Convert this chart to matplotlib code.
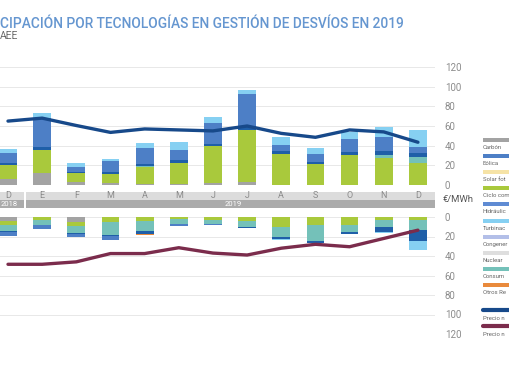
import numpy as np
import matplotlib
matplotlib.use('Agg')
import matplotlib.pyplot as plt
from matplotlib.patches import Rectangle
from matplotlib.lines import Line2D

plt.rcParams['font.family'] = ['Roboto', 'DejaVu Sans']

# datos (dic 2018 - dic 2019)
meses = ['D', 'E', 'F', 'M', 'A', 'M', 'J', 'J', 'A', 'S', 'O', 'N', 'D']

# a subir (MWh medio, escala €/MWh)
sub_carbon = [6, 12.5, 3.5, 2.5, 1, 1, 2.5, 3.5, 0.5, 0.5, 0.5, 0.5, 0.5]
sub_ciclo = [14, 23, 8.5, 9, 17, 21.5, 37, 52.5, 31.5, 20.5, 29.5, 26.5, 22]
sub_consumo = [0, 0, 0, 0, 1.5, 0, 0, 0, 0, 0, 1, 4, 5.5]
sub_hidra = [2, 3, 1.5, 2, 2, 2.5, 2.5, 4.5, 2.5, 2.5, 2.5, 3.5, 5]
sub_eolica = [10.5, 29.5, 5, 11, 16.5, 11, 21.5, 32, 6.5, 8, 13, 14.5, 5.5]
sub_turb = [4, 5.5, 4, 2, 5, 8, 6, 4, 7.5, 6.5, 7.5, 9.5, 17.5]

# a bajar
baj_carbon = [4.5, 0.5, 5, 0, 0, 0, 0, 0, 0, 0, 0, 0, 0]
baj_ciclo = [3.5, 2.5, 4, 5.5, 4.5, 2.5, 3.5, 4.5, 10, 8, 8, 3.5, 3.5]
baj_consumo = [6.5, 5, 7.5, 13, 10, 4.5, 3.5, 5.5, 11, 16.5, 7.5, 6.5, 10]
baj_hidra = [1, 0, 1, 1, 2.5, 0, 0, 1.5, 1.5, 2, 2, 5, 11]
baj_eolica = [4, 4.5, 3.5, 4.5, 0, 2.5, 1.5, 0, 0, 0, 0, 0, 0]
baj_turb = [0, 0, 0, 0, 0, 0, 0, 0, 1, 0, 0, 1, 9]
baj_otras = [0, 0, 0, 0, 1, 0, 0, 0, 0, 0, 0, 0, 0]

precio_subir = [65, 68, 60.5, 53.5, 57, 56, 55, 60, 52.5, 48.5, 56, 54, 43.5]
precio_bajar = [48.5, 48.5, 46, 37.5, 37.5, 31.5, 37, 39, 32, 28, 30.5, 22, 13.5]

leyenda = ['Carbón', 'Eólica', 'Solar fot', 'Ciclo com', 'Hidráulic', 'Turbinac',
           'Congener', 'Nuclear', 'Consum', 'Otros Re']
leyenda_lineas = ['Precio n', 'Precio n']

c_carbon = '#a3a3a3'
c_eolica = '#4d7fc6'
c_solar = '#f6e3a6'
c_ciclo = '#a9c93c'
c_hidra = '#1f5fa8'
c_hidra_ley = '#5f8bd3'
c_turb = '#86d0f2'
c_cogen = '#b3bfe8'
c_nuclear = '#dedede'
c_consumo = '#74c1b9'
c_otras = '#e98a3c'
c_sub = '#17498a'
c_baj = '#7b2c4c'
gris = '#8c8c8c'

W, H = 510, 382
fig = plt.figure(figsize=(W / 100, H / 100), dpi=100)
renderer = fig.canvas.get_renderer()

x = np.arange(len(meses))
ancho = 0.52
xl = (-1.5, 12.5)
px = 34.17
left = (8 - 1.5 * px) / W
width = (435 - 8 + 1.5 * px) / W


def fy(p):
    return 1 - p / H


def caja(top, bottom):
    return [left, fy(bottom), width, fy(top) - fy(bottom)]


def ancho_texto(s, size, **kw):
    t = fig.text(0, 0, s, fontsize=size, **kw)
    w = t.get_window_extent(renderer).width
    t.remove()
    return w


def ajustar(s, objetivo, size=10, **kw):
    return size * objetivo / ancho_texto(s, size, **kw)


def pila(ax, series, colores):
    base = np.zeros(len(x))
    for s, c in zip(series, colores):
        s = np.array(s, dtype=float)
        ax.bar(x, s, ancho, bottom=base, color=c, linewidth=0, zorder=2)
        base += s


def estilo(ax):
    ax.set_xlim(*xl)
    for sp in ax.spines.values():
        sp.set_visible(False)
    ax.set_xticks([])
    ax.yaxis.tick_right()
    ax.set_yticks(range(0, 121, 20))
    ax.tick_params(axis='y', length=0, pad=7, labelsize=7, labelcolor=gris)
    ax.grid(axis='y', color='#e8e8e8', lw=0.7, zorder=0)
    ax.set_axisbelow(True)


# panel superior
ax1 = fig.add_axes(caja(67, 185))
pila(ax1, [sub_carbon, sub_ciclo, sub_consumo, sub_hidra, sub_eolica, sub_turb],
     [c_carbon, c_ciclo, c_consumo, c_hidra, c_eolica, c_turb])
ax1.plot(x, precio_subir, color=c_sub, lw=2.4, zorder=3, solid_capstyle='round')
ax1.set_ylim(0, 120)
estilo(ax1)

# panel inferior
ax2 = fig.add_axes(caja(217, 334))
pila(ax2, [baj_carbon, baj_ciclo, baj_consumo, baj_hidra, baj_eolica, baj_turb, baj_otras],
     [c_carbon, c_ciclo, c_consumo, c_hidra, c_eolica, c_turb, c_otras])
ax2.plot(x, precio_bajar, color=c_baj, lw=2.4, zorder=3, solid_capstyle='round')
ax2.set_ylim(120, 0)
estilo(ax2)

# banda de meses
axm = fig.add_axes(caja(192, 207.5))
axm.set_xlim(*xl)
axm.set_ylim(0, 2)
axm.axis('off')
hueco = 0.03
axm.add_patch(Rectangle((xl[0], 1), 0.5 - hueco - xl[0], 1, color='#dcdcdc', lw=0))
axm.add_patch(Rectangle((0.5 + hueco, 1), xl[1] - 0.5 - hueco, 1, color='#dcdcdc', lw=0))
axm.add_patch(Rectangle((xl[0], 0), 0.5 - hueco - xl[0], 0.95, color='#ababab', lw=0))
axm.add_patch(Rectangle((0.5 + hueco, 0), xl[1] - 0.5 - hueco, 0.95, color='#ababab', lw=0))
for i, m in enumerate(meses):
    axm.text(i, 1.5, m, ha='center', va='center', fontsize=6.5, color='#8a8a8a')
axm.text(-0.22, 0.45, '2018', ha='left', va='center', fontsize=5.5, color='white')
axm.text(6.6, 0.45, '2019', ha='center', va='center', fontsize=5.5, color='white')

fig.text(443 / W, fy(199), '€/MWh', ha='left', va='center',
         fontsize=ajustar('€/MWh', 31), color='#555555')

# titulo
titulo = 'CIPACIÓN POR TECNOLOGÍAS EN GESTIÓN DE DESVÍOS EN 2019'
fig.text(0, fy(24), titulo, ha='left', va='center', fontweight='medium',
         fontsize=ajustar(titulo, 404, fontweight='medium'), color='#6596d0')
fig.text(0, fy(36), 'AEE', ha='left', va='center', fontsize=7.5, color='#6a6a6a')

# leyenda
tam_ley = min(ajustar(s, 26.5) for s in leyenda + leyenda_lineas)
colores_ley = [c_carbon, c_eolica, c_solar, c_ciclo, c_hidra_ley, c_turb, c_cogen,
               c_nuclear, c_consumo, c_otras]
for i, (lab, c) in enumerate(zip(leyenda, colores_ley)):
    y0 = 138 + 16.1 * i
    fig.patches.append(Rectangle((483 / W, fy(y0 + 4)), 40 / W, 4 / H, color=c, lw=0,
                                 transform=fig.transFigure, figure=fig))
    fig.text(483 / W, fy(y0 + 9.5), lab, ha='left', va='center', fontsize=tam_ley,
             color='#666666')
for i, (lab, c) in enumerate(zip(leyenda_lineas, [c_sub, c_baj])):
    y0 = 310 + 16 * i
    fig.lines.append(Line2D([483 / W, 1.05], [fy(y0), fy(y0)], color=c, lw=3,
                            transform=fig.transFigure, solid_capstyle='round'))
    fig.text(483 / W, fy(y0 + 8), lab, ha='left', va='center', fontsize=tam_ley,
             color='#666666')

fig.savefig('out.png', dpi=100)
